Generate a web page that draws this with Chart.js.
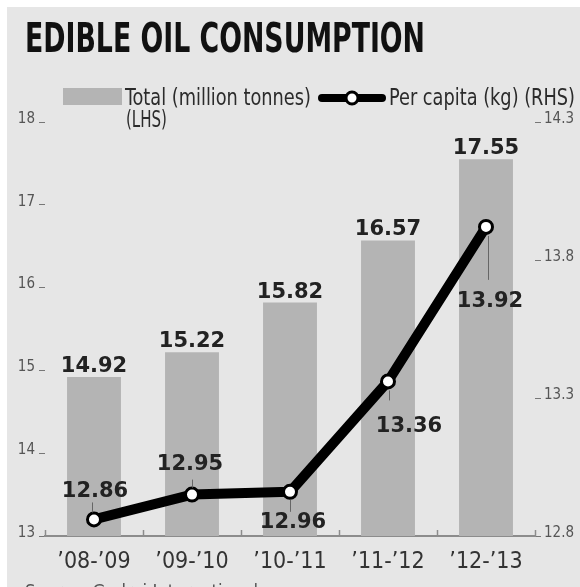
<!DOCTYPE html>
<html>
<head>
<meta charset="utf-8">
<script src="https://cdn.jsdelivr.net/npm/chart.js@4.4.1/dist/chart.umd.min.js"></script>
<style>
  html, body { margin: 0; padding: 0; background: #fff; }
  #wrap { position: relative; width: 580px; height: 587px; overflow: hidden; }
  #panel { position: absolute; left: 7px; top: 7px; right: 0; bottom: 0; background: #e6e6e6; }
  #chart { position: absolute; left: 0; top: 0; }
  .txt {
    position: absolute; white-space: nowrap; line-height: 1; transform-origin: 0 0;
    font-family: "Liberation Sans Narrow", "DejaVu Sans Condensed", sans-serif;
  }
  #title { left: 25px; top: 18px; font-size: 40px; font-weight: bold; color: #111; }
  .leg { font-size: 23px; color: #2b2b2b; }
  #legTotal { left: 125px; top: 86px; }
  #legLhs { left: 126px; top: 108px; }
  #legPer { left: 389px; top: 86px; }
  #swatch { position: absolute; left: 63px; top: 88px; width: 59px; height: 17px; background: #b4b4b4; }
  #legLine { position: absolute; left: 315px; top: 88px; }
  #source { left: 25px; top: 582px; font-size: 18px; color: #555; }
</style>
</head>
<body>
<div id="wrap">
  <div id="panel"></div>
  <canvas id="chart" width="580" height="587"></canvas>
  <div id="title" class="txt">EDIBLE OIL CONSUMPTION</div>
  <div id="swatch"></div>
  <div id="legTotal" class="txt leg">Total (million tonnes)</div>
  <div id="legLhs" class="txt leg">(LHS)</div>
  <svg id="legLine" width="74" height="20">
    <line x1="7" y1="10" x2="67" y2="10" stroke="#000" stroke-width="8" stroke-linecap="round"/>
    <circle cx="37" cy="10" r="6" fill="#fff" stroke="#000" stroke-width="3"/>
  </svg>
  <div id="legPer" class="txt leg">Per capita (kg) (RHS)</div>
  <div id="source" class="txt">Source: Godrej International</div>
</div>
<script>
const seasons = ['’08-’09', '’09-’10', '’10-’11', '’11-’12', '’12-’13'];
const totalMt = [14.92, 15.22, 15.82, 16.57, 17.55];
const perCapitaKg = [12.86, 12.95, 12.96, 13.36, 13.92];
const lhsTicks = [13, 14, 15, 16, 17, 18];
const rhsTicks = [12.8, 13.3, 13.8, 14.3];

// where each per-capita label sits relative to its point, plus its leader line
const perCapitaLabelAt = [
  { dx: 1, dy: -22, lx: -2, lead: [-17, -7] },
  { dx: -2, dy: -25, lx: 0, lead: [-15, -7] },
  { dx: 3, dy: 36, lx: 0, lead: [8, 20] },
  { dx: 21, dy: 51, lx: 1, lead: [9, 19] },
  { dx: 4, dy: 80, lx: 2, lead: [9, 53] }
];

// squeeze the html captions to their set widths
function fitWidth(id, w) {
  const el = document.getElementById(id);
  const cur = el.getBoundingClientRect().width;
  el.style.transform = 'scaleX(' + (w / cur) + ')';
}
fitWidth('title', 400);
fitWidth('legTotal', 186);
fitWidth('legLhs', 41);
fitWidth('legPer', 186);
fitWidth('source', 233);

const valueLabels = {
  id: 'valueLabels',
  afterDatasetsDraw(chart) {
    const ctx = chart.ctx;
    const x = chart.scales.x;
    ctx.save();
    // small ticks between the seasons on the baseline
    ctx.strokeStyle = '#8c8c8c';
    ctx.lineWidth = 1.5;
    const step = (x.right - x.left) / seasons.length;
    for (let i = 0; i <= seasons.length; i++) {
      const px = Math.round(x.left + i * step) + 0.5;
      ctx.beginPath();
      ctx.moveTo(px, x.top - 6);
      ctx.lineTo(px, x.top);
      ctx.stroke();
    }

    ctx.font = 'bold 21px "DejaVu Sans"';
    ctx.fillStyle = '#222';
    ctx.textAlign = 'center';
    ctx.textBaseline = 'alphabetic';
    chart.getDatasetMeta(0).data.forEach((bar, i) => {
      ctx.fillText(totalMt[i].toFixed(2), bar.x, bar.y - 5);
    });
    ctx.strokeStyle = '#666';
    ctx.lineWidth = 1;
    chart.getDatasetMeta(1).data.forEach((pt, i) => {
      const p = perCapitaLabelAt[i];
      const lx = Math.round(pt.x + p.lx) + 0.5;
      ctx.beginPath();
      ctx.moveTo(lx, pt.y + p.lead[0]);
      ctx.lineTo(lx, pt.y + p.lead[1]);
      ctx.stroke();
      ctx.fillText(perCapitaKg[i].toFixed(2), pt.x + p.dx, pt.y + p.dy);
    });
    ctx.restore();
  }
};

Chart.defaults.font.family = '"DejaVu Sans Condensed", "DejaVu Sans", sans-serif';

new Chart(document.getElementById('chart'), {
  data: {
    labels: seasons,
    datasets: [
      {
        type: 'bar',
        label: 'Total (million tonnes) (LHS)',
        data: totalMt,
        yAxisID: 'y',
        backgroundColor: '#b4b4b4',
        barPercentage: 0.55,
        categoryPercentage: 1,
        order: 1
      },
      {
        type: 'line',
        label: 'Per capita (kg) (RHS)',
        data: perCapitaKg,
        yAxisID: 'y1',
        borderColor: '#000',
        borderWidth: 10,
        borderJoinStyle: 'round',
        borderCapStyle: 'round',
        pointRadius: 6.5,
        pointBorderWidth: 3,
        pointBackgroundColor: '#fff',
        pointBorderColor: '#000',
        tension: 0,
        order: 0
      }
    ]
  },
  options: {
    responsive: false,
    animation: false,
    layout: { padding: { top: 122, left: 0, right: 0, bottom: 0 } },
    plugins: { legend: { display: false }, tooltip: { enabled: false } },
    scales: {
      x: {
        grid: { display: false, offset: true },
        border: { display: true, color: '#8c8c8c', width: 2 },
        ticks: { color: '#333', font: { size: 23 }, padding: 4, maxRotation: 0 },
        afterFit(s) { s.height = 51; }
      },
      y: {
        position: 'left',
        min: 13,
        max: 18,
        afterBuildTicks(s) { s.ticks = lhsTicks.map(v => ({ value: v })); },
        grid: { drawOnChartArea: false, drawTicks: true, tickLength: 6, color: '#777' },
        border: { display: false },
        ticks: { color: '#555', font: { size: 15 }, padding: 4, labelOffset: -3 },
        afterFit(s) { s.width = 45; }
      },
      y1: {
        position: 'right',
        min: 12.8,
        max: 14.3,
        afterBuildTicks(s) { s.ticks = rhsTicks.map(v => ({ value: v })); },
        grid: { drawOnChartArea: false, drawTicks: true, tickLength: 6, color: '#777' },
        border: { display: false },
        ticks: { color: '#555', font: { size: 15 }, padding: 3, labelOffset: -3,
          callback: v => Number(v).toFixed(1) },
        afterFit(s) { s.width = 45; }
      }
    }
  },
  plugins: [valueLabels]
});
</script>
</body>
</html>
